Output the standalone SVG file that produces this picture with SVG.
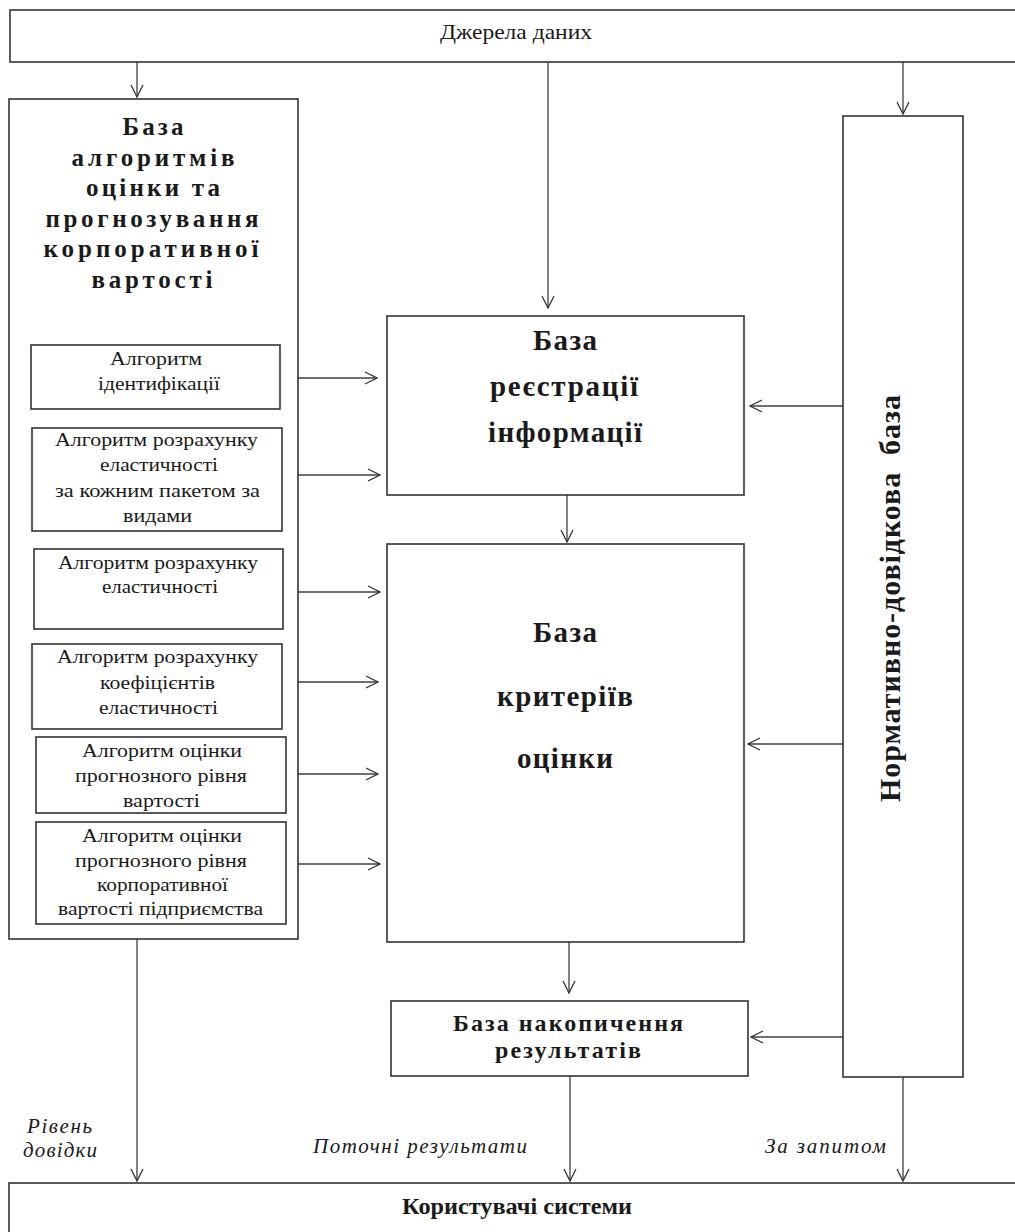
<svg xmlns="http://www.w3.org/2000/svg" width="1015" height="1232" viewBox="0 0 1015 1232">
<defs>
<marker id="ah" markerUnits="userSpaceOnUse" markerWidth="14" markerHeight="14" viewBox="0 0 14 14" refX="13" refY="7" orient="auto">
<path d="M1,1 L13,7 L1,13" fill="none" stroke="#333" stroke-width="1.3"/>
</marker>
<style>
.box{fill:#fff;stroke:#333;stroke-width:1.6}
.c{fill:none;stroke:#404040;stroke-width:1.3;marker-end:url(#ah)}
text{font-family:"Liberation Serif","Times New Roman",serif;fill:#1a1a1a;text-anchor:middle}
.s{font-size:19.5px}
.t{font-size:25px;font-weight:bold}
.r{font-size:29px;font-weight:bold}
.i{font-size:21px;font-style:italic}
</style>
</defs>
<rect width="1015" height="1232" fill="#fff"/>

<g id="connectors">
<line class="c" x1="137" y1="62" x2="137" y2="97"/>
<line class="c" x1="548" y1="62" x2="548" y2="308"/>
<line class="c" x1="903" y1="62" x2="903" y2="114"/>
<line class="c" x1="283" y1="378" x2="377" y2="378"/>
<line class="c" x1="287" y1="475" x2="380" y2="475"/>
<line class="c" x1="288" y1="592" x2="380" y2="592"/>
<line class="c" x1="285" y1="682" x2="378" y2="682"/>
<line class="c" x1="287" y1="774" x2="378" y2="774"/>
<line class="c" x1="288" y1="864" x2="380" y2="864"/>
<line class="c" x1="567" y1="495" x2="567" y2="542"/>
<line class="c" x1="843" y1="406" x2="750" y2="406"/>
<line class="c" x1="843" y1="744" x2="748" y2="744"/>
<line class="c" x1="569" y1="942" x2="569" y2="993"/>
<line class="c" x1="843" y1="1037" x2="751" y2="1037"/>
<line class="c" x1="137" y1="939" x2="137" y2="1181"/>
<line class="c" x1="570" y1="1076" x2="570" y2="1181"/>
<line class="c" x1="903" y1="1077" x2="903" y2="1181"/>
<text class="i" x="59.5" y="1133" textLength="65">Рівень</text>
<text class="i" x="60" y="1157" textLength="74">довідки</text>
<text class="i" x="420" y="1153" textLength="214">Поточні результати</text>
<text class="i" x="825.5" y="1153" textLength="121">За запитом</text>
</g>

<g id="sources">
<rect class="box" x="10" y="10" width="1020" height="52"/>
<text x="516" y="39" style="font-size:22px" textLength="152" lengthAdjust="spacingAndGlyphs">Джерела даних</text>
</g>

<g id="algorithms">
<rect class="box" x="9" y="99" width="289" height="840"/>
<text class="t" x="153" y="135" textLength="61">База</text>
<text class="t" x="153" y="166" textLength="163">алгоритмів</text>
<text class="t" x="153" y="196" textLength="134">оцінки та</text>
<text class="t" x="152" y="227" textLength="213">прогнозування</text>
<text class="t" x="151" y="257" textLength="215">корпоративної</text>
<text class="t" x="152" y="288" textLength="121">вартості</text>
</g>

<g id="alg1">
<rect class="box" x="31" y="345" width="249" height="64"/>
<text class="s" x="156" y="365" textLength="92" lengthAdjust="spacingAndGlyphs">Алгоритм</text>
<text class="s" x="159" y="390" textLength="122" lengthAdjust="spacingAndGlyphs">ідентифікації</text>
</g>

<g id="alg2">
<rect class="box" x="32" y="428" width="250" height="103"/>
<text class="s" x="156.5" y="446" textLength="203" lengthAdjust="spacingAndGlyphs">Алгоритм розрахунку</text>
<text class="s" x="159" y="471" textLength="118" lengthAdjust="spacingAndGlyphs">еластичності</text>
<text class="s" x="157.5" y="497" textLength="205" lengthAdjust="spacingAndGlyphs">за кожним пакетом за</text>
<text class="s" x="157.5" y="522" textLength="69" lengthAdjust="spacingAndGlyphs">видами</text>
</g>

<g id="alg3">
<rect class="box" x="34" y="549" width="249" height="80"/>
<text class="s" x="158" y="569" textLength="200" lengthAdjust="spacingAndGlyphs">Алгоритм розрахунку</text>
<text class="s" x="160" y="593" textLength="116" lengthAdjust="spacingAndGlyphs">еластичності</text>
</g>

<g id="alg4">
<rect class="box" x="32" y="644" width="250" height="85"/>
<text class="s" x="157.5" y="663" textLength="201" lengthAdjust="spacingAndGlyphs">Алгоритм розрахунку</text>
<text class="s" x="157.5" y="689" textLength="115" lengthAdjust="spacingAndGlyphs">коефіцієнтів</text>
<text class="s" x="158.5" y="714" textLength="119" lengthAdjust="spacingAndGlyphs">еластичності</text>
</g>

<g id="alg5">
<rect class="box" x="36" y="737" width="250" height="76"/>
<text class="s" x="162" y="757" textLength="160" lengthAdjust="spacingAndGlyphs">Алгоритм оцінки</text>
<text class="s" x="161" y="782" textLength="172" lengthAdjust="spacingAndGlyphs">прогнозного рівня</text>
<text class="s" x="161.5" y="807" textLength="77" lengthAdjust="spacingAndGlyphs">вартості</text>
</g>

<g id="alg6">
<rect class="box" x="36" y="822" width="250" height="102"/>
<text class="s" x="162" y="842" textLength="160" lengthAdjust="spacingAndGlyphs">Алгоритм оцінки</text>
<text class="s" x="161" y="867" textLength="172" lengthAdjust="spacingAndGlyphs">прогнозного рівня</text>
<text class="s" x="162.5" y="891" textLength="131" lengthAdjust="spacingAndGlyphs">корпоративної</text>
<text class="s" x="160.5" y="915" textLength="205" lengthAdjust="spacingAndGlyphs">вартості підприємства</text>
</g>

<g id="registration">
<rect class="box" x="387" y="316" width="357" height="179"/>
<text class="r" x="565" y="350" textLength="64">База</text>
<text class="r" x="564" y="396" textLength="148">реєстрації</text>
<text class="r" x="565" y="442" textLength="154">інформації</text>
</g>

<g id="criteria">
<rect class="box" x="387" y="544" width="357" height="398"/>
<text class="r" x="565" y="642" textLength="64">База</text>
<text class="r" x="565" y="706" textLength="136">критеріїв</text>
<text class="r" x="565" y="768" textLength="96">оцінки</text>
</g>

<g id="accumulation">
<rect class="box" x="391" y="1001" width="357" height="75"/>
<text x="568" y="1031" style="font-size:24px;font-weight:bold" textLength="230">База накопичення</text>
<text x="568" y="1058" style="font-size:24px;font-weight:bold" textLength="146">результатів</text>
</g>

<g id="reference">
<rect class="box" x="843" y="116" width="120" height="961"/>
<text x="900" y="598.5" transform="rotate(-90 900 598.5)" style="font-size:30px;font-weight:bold" textLength="407" xml:space="preserve">Нормативно-довідкова  база</text>
</g>

<g id="users">
<rect class="box" x="9" y="1183" width="1020" height="60"/>
<text x="517" y="1214" style="font-size:24px;font-weight:bold" textLength="230" lengthAdjust="spacingAndGlyphs">Користувачі системи</text>
</g>
</svg>
